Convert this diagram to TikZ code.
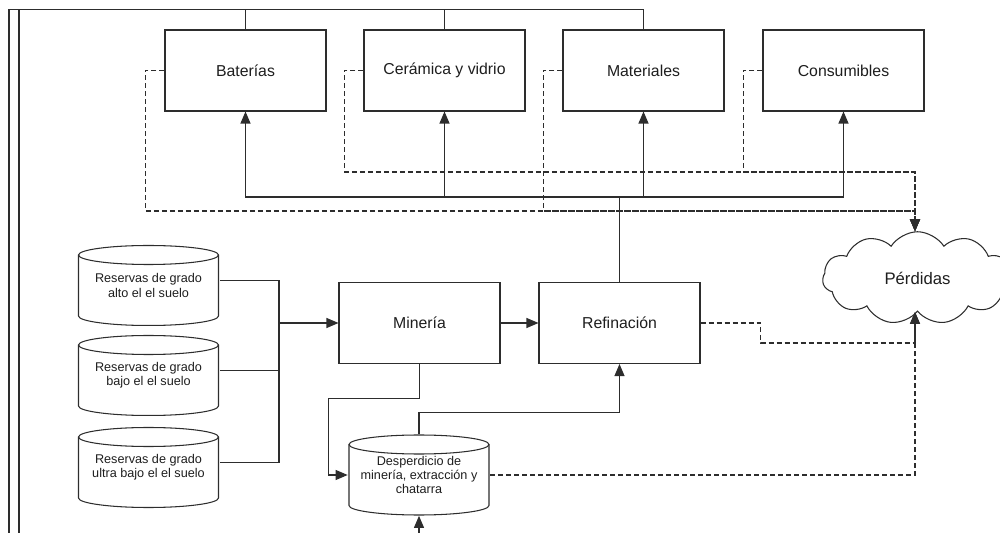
\documentclass[tikz,border=0pt]{standalone}
\usepackage{fontspec}
\setmainfont{Liberation Sans}
\usetikzlibrary{arrows.meta,shapes.symbols}
\definecolor{figTrait}{RGB}{45,45,45}
\definecolor{figTexte}{RGB}{30,30,30}

\begin{document}
\begin{tikzpicture}[
  x=1cm, y=1cm, every node/.style={font=\fontsize{9}{11}\selectfont, text=figTexte},
  proc/.style={draw=figTrait, line width=0.6pt, minimum width=3.22cm,
               minimum height=1.62cm, align=center, fill=white},
  res/.style={minimum width=2.84cm, minimum height=1.62cm, align=center, inner sep=1pt,
              font=\fontsize{7.2}{8.2}\selectfont,
              path picture={
                \path (path picture bounding box.north) coordinate (cilA)
                      (path picture bounding box.south) coordinate (cilB);
                \draw[linea, fill=white] ([yshift=-0.2cm]cilA) ellipse [x radius=1.4cm, y radius=0.19cm];
                \draw[linea] ([shift={(-1.4cm,-0.2cm)}]cilA) -- ([shift={(-1.4cm,0.2cm)}]cilB)
                  arc[start angle=180, end angle=360, x radius=1.4cm, y radius=0.19cm]
                  -- ([shift={(1.4cm,-0.2cm)}]cilA);
              }},
  nube/.style={draw=figTrait, line width=0.6pt, cloud, cloud puffs=11, cloud puff arc=115,
               aspect=2, minimum width=3.8cm, minimum height=1.85cm, fill=white,
               font=\fontsize{9.5}{11}\selectfont},
  linea/.style={draw=figTrait, line width=0.6pt},
  flecha/.style={linea, -{Triangle[width=2mm,length=2.4mm]}},
  perdida/.style={flecha, dash pattern=on 1mm off 0.6mm}
]
\useasboundingbox (0,0) rectangle (20,-10.66);

\node[proc] (bat) at (4.91,-1.41)  {Baterías};
\node[proc] (cer) at (8.89,-1.41)  {Cerámica y vidrio};
\node[proc] (mat) at (12.87,-1.41) {Materiales};
\node[proc] (con) at (16.87,-1.41) {Consumibles};

\node[res] (alto)  at (2.97,-5.71) {Reservas de grado\\alto el el suelo};
\node[res] (bajo)  at (2.97,-7.51) {Reservas de grado\\bajo el el suelo};
\node[res] (ultra) at (2.97,-9.35) {Reservas de grado\\ultra bajo el el suelo};

\node[proc] (min) at (8.39,-6.46)  {Minería};
\node[proc] (ref) at (12.39,-6.46) {Refinación};
\node[res] (desp) at (8.38,-9.50) {Desperdicio de\\minería, extracción y\\chatarra};
\node[nube] (perd) at (18.35,-5.56) {Pérdidas};

\coordinate (bordeA) at (0.18,-10.9);
\coordinate (bordeB) at (0.38,-10.9);
\coordinate (cruce) at (5.58,-6.46);
\coordinate (rama) at (12.39,-3.94);
\coordinate (abajo) at (8.38,-10.9);

\draw[linea] (bordeA) |- ([yshift=4mm]mat.north) -- (mat.north);
\draw[linea] (bordeB) -- (bordeB |- 0,-0.2);
\draw[linea] (bat.north) -- ++(0,0.4);
\draw[linea] (cer.north) -- ++(0,0.4);

\draw[linea] (ref.north) -- (rama);
\foreach \n in {bat,cer,mat,con}
  \draw[flecha] (rama) -| (\n.south);

\foreach \n/\y in {bat/-4.22, cer/-3.44, mat/-4.22, con/-3.44}
  \draw[perdida] (\n.west) -- ++(-0.38,0) |- (18.3,\y) -- (perd.north -| 18.3,0);

\foreach \n in {alto,bajo,ultra}
  \draw[linea] ([yshift=1mm]\n.east) -| (cruce);
\draw[flecha] (cruce) -- (min.west);
\draw[flecha] (min.east) -- (ref.west);

\draw[flecha] (min.south) -- ++(0,-0.69) -| ([xshift=-3.9mm]desp.west) -- (desp.west);
\draw[flecha] (desp.north) -- ++(0,0.44) -| (ref.south);
\draw[flecha] (abajo) -- (desp.south);

\draw[perdida] (ref.east) -- ++(1.2,0) |- (18.3,-6.86) -- (perd.south -| 18.3,0);
\draw[perdida] (desp.east) -| (perd.south -| 18.3,0);
\end{tikzpicture}
\end{document}
